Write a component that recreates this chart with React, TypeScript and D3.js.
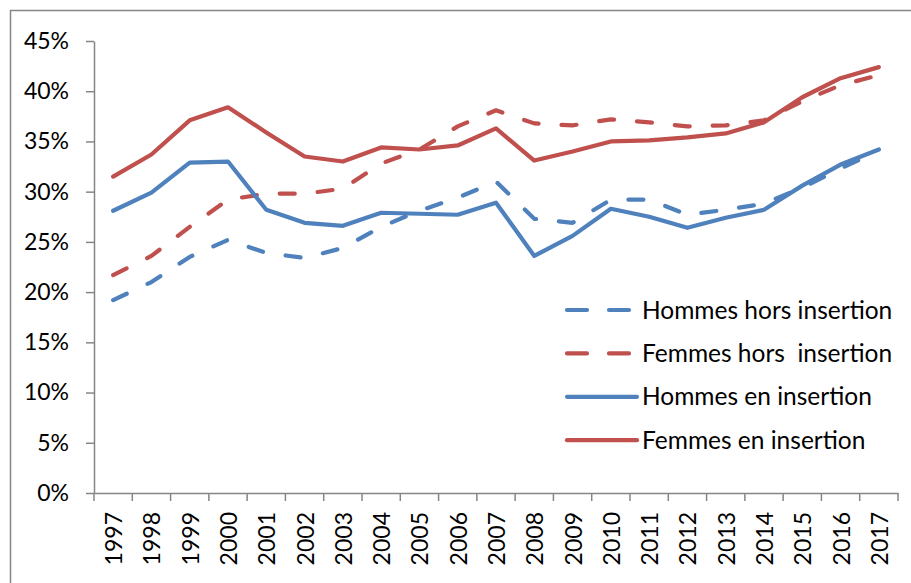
import { useEffect, useRef } from "react";
import * as d3 from "d3";

const years = [
  "1997", "1998", "1999", "2000", "2001", "2002", "2003", "2004", "2005", "2006", "2007",
  "2008", "2009", "2010", "2011", "2012", "2013", "2014", "2015", "2016", "2017",
];

const hommesHors = [19.2, 21.0, 23.5, 25.2, 23.9, 23.4, 24.4, 26.5, 28.1, 29.4, 31.0, 27.3, 26.9, 29.2, 29.2, 27.7, 28.2, 28.8, 30.4, 32.3, 34.1];
const femmesHors = [21.7, 23.6, 26.5, 29.2, 29.8, 29.8, 30.3, 32.8, 34.2, 36.5, 38.1, 36.8, 36.6, 37.2, 36.9, 36.5, 36.6, 37.1, 39.0, 40.6, 41.6];
const hommesEn = [28.1, 29.9, 32.9, 33.0, 28.2, 26.9, 26.6, 27.9, 27.8, 27.7, 28.9, 23.6, 25.6, 28.3, 27.5, 26.4, 27.4, 28.2, 30.6, 32.7, 34.2];
const femmesEn = [31.5, 33.7, 37.1, 38.4, 35.9, 33.5, 33.0, 34.4, 34.2, 34.6, 36.3, 33.1, 34.0, 35.0, 35.1, 35.4, 35.8, 36.9, 39.4, 41.3, 42.4];

const yTicks = [0, 5, 10, 15, 20, 25, 30, 35, 40, 45];

const series = [
  { label: "Hommes hors insertion", values: hommesHors, color: "#4F81BD", dashed: true },
  { label: "Femmes hors  insertion", values: femmesHors, color: "#C0504D", dashed: true },
  { label: "Hommes en insertion", values: hommesEn, color: "#4F81BD", dashed: false },
  { label: "Femmes en insertion", values: femmesEn, color: "#C0504D", dashed: false },
];

const FONT = "Lato, 'Open Sans', sans-serif";

export default function App() {
  const svgRef = useRef<SVGSVGElement>(null);

  useEffect(() => {
    if (!svgRef.current) return;
    const svg = d3.select(svgRef.current);
    svg.selectAll("*").remove();

    const width = 911;
    const height = 583;
    const margin = { top: 41, left: 94, right: 13, bottom: 90 };
    const axisColor = "#868686";

    // outer chart frame
    svg
      .append("rect")
      .attr("x", 10.5)
      .attr("y", 10.5)
      .attr("width", 920)
      .attr("height", 600)
      .attr("fill", "white")
      .attr("stroke", axisColor)
      .attr("stroke-width", 1.5);

    const x = d3
      .scaleBand<string>()
      .domain(years)
      .range([margin.left, width - margin.right]);

    const y = d3
      .scaleLinear()
      .domain([0, 45])
      .range([height - margin.bottom, margin.top]);

    // y axis
    const yAxis = svg
      .append("g")
      .attr("transform", `translate(${margin.left},0)`)
      .call(d3.axisLeft(y).tickValues(yTicks).tickSize(8).tickSizeOuter(0).tickFormat((d) => `${d}%`).tickPadding(17));
    yAxis
      .selectAll("text")
      .attr("font-family", FONT)
      .attr("font-size", "23px")
      .attr("fill", "#000");

    // x axis
    const xAxis = svg
      .append("g")
      .attr("transform", `translate(0,${y(0)})`)
      .call(d3.axisBottom(x).tickSize(0).tickSizeOuter(0));
    xAxis
      .selectAll(".tick text")
      .attr("font-family", FONT)
      .attr("font-size", "23px")
      .attr("fill", "#000")
      .attr("text-anchor", "end")
      .attr("dy", null)
      .attr("dominant-baseline", "central")
      .attr("transform", "rotate(-90)")
      .attr("x", -19)
      .attr("y", 0);

    // category boundary ticks
    svg
      .append("g")
      .selectAll("line")
      .data([...years.map((d) => x(d) as number), x.range()[1]])
      .enter()
      .append("line")
      .attr("x1", (d) => d)
      .attr("x2", (d) => d)
      .attr("y1", y(0))
      .attr("y2", y(0) + 8)
      .attr("stroke", axisColor)
      .attr("stroke-width", 1.5);

    svg.selectAll(".domain, .tick line").attr("stroke", axisColor).attr("stroke-width", 1.5);

    const line = d3
      .line<number>()
      .x((_, i) => (x(years[i]) as number) + x.bandwidth() / 2)
      .y((d) => y(d));

    series.forEach((s) => {
      svg
        .append("path")
        .datum(s.values)
        .attr("fill", "none")
        .attr("stroke", s.color)
        .attr("stroke-width", 4.2)
        .attr("stroke-linejoin", "round")
        .attr("stroke-linecap", "round")
        .attr("stroke-dasharray", s.dashed ? "15,23" : null)
        .attr("d", line);
    });

    // legend
    const legend = svg.append("g").attr("transform", "translate(565,310)");
    series.forEach((s, i) => {
      const g = legend.append("g").attr("transform", `translate(0,${i * 43.4})`);
      g.append("line")
        .attr("x1", 2)
        .attr("x2", s.dashed ? 70 : 72)
        .attr("y1", 0)
        .attr("y2", 0)
        .attr("stroke", s.color)
        .attr("stroke-width", 4.2)
        .attr("stroke-linecap", "round")
        .attr("stroke-dasharray", s.dashed ? "20,22" : null);
      g.append("text")
        .attr("x", 77)
        .attr("y", -1)
        .attr("dominant-baseline", "central")
        .attr("font-family", FONT)
        .attr("font-size", "24.5px")
        .attr("fill", "#000")
        .style("white-space", "pre")
        .text(s.label);
    });
  }, []);

  return (
    <svg
      ref={svgRef}
      width={911}
      height={583}
      style={{ position: "absolute", left: 0, top: 0, background: "white" }}
    />
  );
}
